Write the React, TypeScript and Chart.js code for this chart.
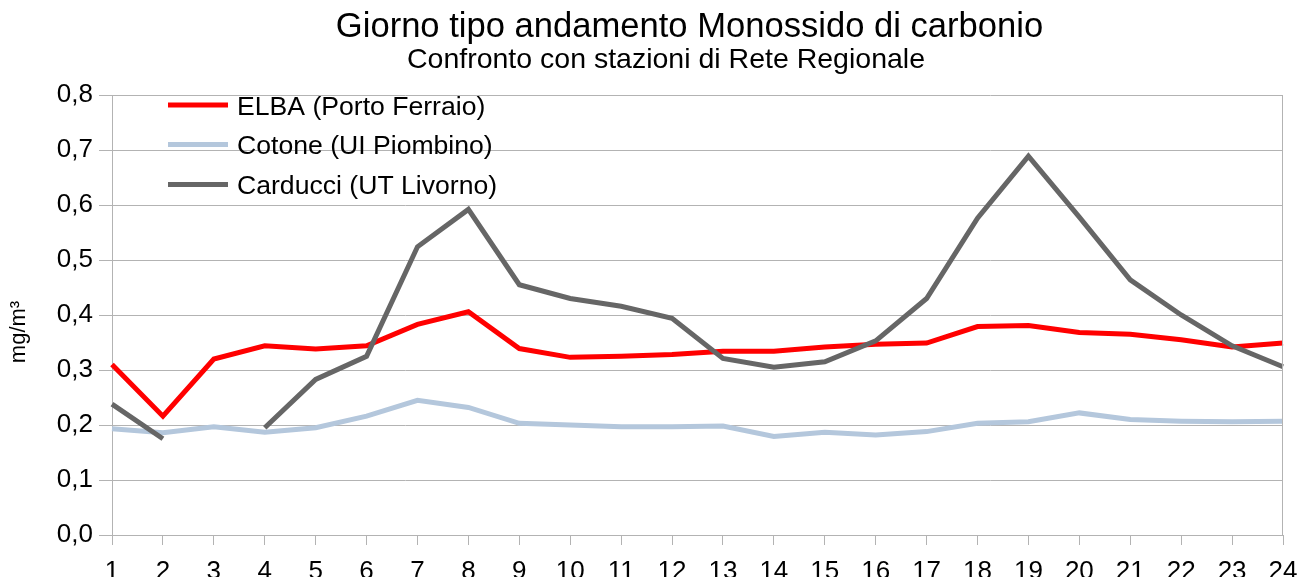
import React, { useEffect, useRef } from 'react';
import { Chart, registerables } from 'chart.js';

Chart.register(...registerables);

const hours = ['1', '2', '3', '4', '5', '6', '7', '8', '9', '10', '11', '12', '13', '14', '15', '16', '17', '18', '19', '20', '21', '22', '23', '24'];
const elba = [0.310, 0.216, 0.320, 0.344, 0.338, 0.344, 0.383, 0.406, 0.339, 0.323, 0.325, 0.328, 0.334, 0.334, 0.342, 0.347, 0.349, 0.379, 0.381, 0.368, 0.365, 0.355, 0.342, 0.349];
const cotone = [0.193, 0.186, 0.197, 0.187, 0.195, 0.216, 0.245, 0.232, 0.203, 0.200, 0.197, 0.197, 0.198, 0.179, 0.187, 0.182, 0.188, 0.203, 0.206, 0.222, 0.210, 0.207, 0.206, 0.207];
const carducci = [0.238, 0.175, null, 0.195, 0.283, 0.325, 0.524, 0.592, 0.455, 0.430, 0.416, 0.394, 0.321, 0.305, 0.315, 0.353, 0.430, 0.576, 0.689, 0.578, 0.464, 0.400, 0.344, 0.306];
const seriesNames = ['ELBA (Porto Ferraio)', 'Cotone (UI Piombino)', 'Carducci (UT Livorno)'];
const seriesColors = ['#ff0000', '#b4c7dc', '#666666'];
const titleText = 'Giorno tipo andamento Monossido di carbonio';
const subtitleText = 'Confronto con stazioni di Rete Regionale';
const yAxisLabel = 'mg/m³';

const FONT = '"Liberation Sans", Arial, sans-serif';

const overlayPlugin = {
  id: 'overlay',
  afterDraw(chart: any) {
    const ctx = chart.ctx;
    const area = chart.chartArea;
    ctx.save();
    // right border of plot area
    ctx.strokeStyle = '#b3b3b3';
    ctx.lineWidth = 1;
    ctx.beginPath();
    ctx.moveTo(Math.round(area.right) - 0.5, area.top);
    ctx.lineTo(Math.round(area.right) - 0.5, area.bottom);
    ctx.stroke();

    ctx.fillStyle = '#000000';
    ctx.textAlign = 'center';
    ctx.textBaseline = 'alphabetic';
    ctx.font = `34.6px ${FONT}`;
    ctx.fillText(titleText, 689.5, 37);
    ctx.font = `28.5px ${FONT}`;
    ctx.fillText(subtitleText, 666, 68);

    // y axis title
    ctx.save();
    ctx.translate(19, 332);
    ctx.rotate(-Math.PI / 2);
    ctx.textBaseline = 'middle';
    ctx.font = `22px ${FONT}`;
    ctx.fillText(yAxisLabel, 0, 0);
    ctx.restore();

    // legend
    const rows = [105, 144.5, 184.5];
    ctx.textAlign = 'left';
    ctx.font = `26.6px ${FONT}`;
    seriesNames.forEach((name, i) => {
      ctx.strokeStyle = seriesColors[i];
      ctx.lineWidth = 5;
      ctx.beginPath();
      ctx.moveTo(168, rows[i]);
      ctx.lineTo(228, rows[i]);
      ctx.stroke();
      ctx.fillStyle = '#000000';
      ctx.fillText(name, 237, rows[i] + 9.5);
    });
    ctx.restore();
  },
};

export default function App() {
  const ref = useRef<HTMLCanvasElement | null>(null);
  useEffect(() => {
    if (!ref.current) return;
    const mk = (label: string, data: (number | null)[], color: string, order: number) => ({
      label,
      data,
      borderColor: color,
      backgroundColor: color,
      borderWidth: 5,
      pointRadius: 0,
      pointHoverRadius: 0,
      tension: 0,
      spanGaps: false,
      fill: false,
      order,
    });
    const chart = new Chart(ref.current, {
      type: 'line',
      data: {
        labels: hours,
        datasets: [
          mk(seriesNames[0], elba, seriesColors[0], 1),
          mk(seriesNames[1], cotone, seriesColors[1], 2),
          mk(seriesNames[2], carducci, seriesColors[2], 0),
        ],
      },
      options: {
        responsive: false,
        animation: false,
        events: [],
        layout: { padding: { top: 95, right: 18, left: 0, bottom: 0 } },
        plugins: {
          legend: { display: false },
          title: { display: false },
          tooltip: { enabled: false },
        },
        scales: {
          x: {
            type: 'category',
            offset: false,
            grid: {
              display: true,
              drawOnChartArea: false,
              drawTicks: true,
              tickLength: 10,
              color: '#b3b3b3',
              lineWidth: 1,
            },
            border: { display: true, color: '#b3b3b3', width: 1 },
            ticks: {
              color: '#000000',
              font: { family: FONT, size: 26 },
              padding: 11,
              maxRotation: 0,
              autoSkip: false,
            },
            afterFit(scale: any) {
              scale.height = 42;
              scale.paddingLeft = 0;
              scale.paddingRight = 0;
            },
          },
          y: {
            min: 0,
            max: 0.8,
            grid: {
              color: '#b3b3b3',
              lineWidth: 1,
              tickLength: 13,
              drawTicks: true,
            },
            border: { display: true, color: '#b3b3b3', width: 1 },
            ticks: {
              stepSize: 0.1,
              color: '#000000',
              font: { family: FONT, size: 26 },
              padding: 6,
              callback: (v: any) => Number(v).toFixed(1).replace('.', ','),
            },
            afterFit(scale: any) {
              scale.width = 112;
              scale.paddingTop = 0;
              scale.paddingBottom = 0;
            },
          },
        },
      },
      plugins: [overlayPlugin],
    } as any);
    return () => chart.destroy();
  }, []);
  return (
    <div style={{ position: 'fixed', left: 0, top: 0, width: 1301, height: 577, background: '#ffffff' }}>
      <canvas ref={ref} width={1301} height={577} style={{ display: 'block' }} />
    </div>
  );
}
